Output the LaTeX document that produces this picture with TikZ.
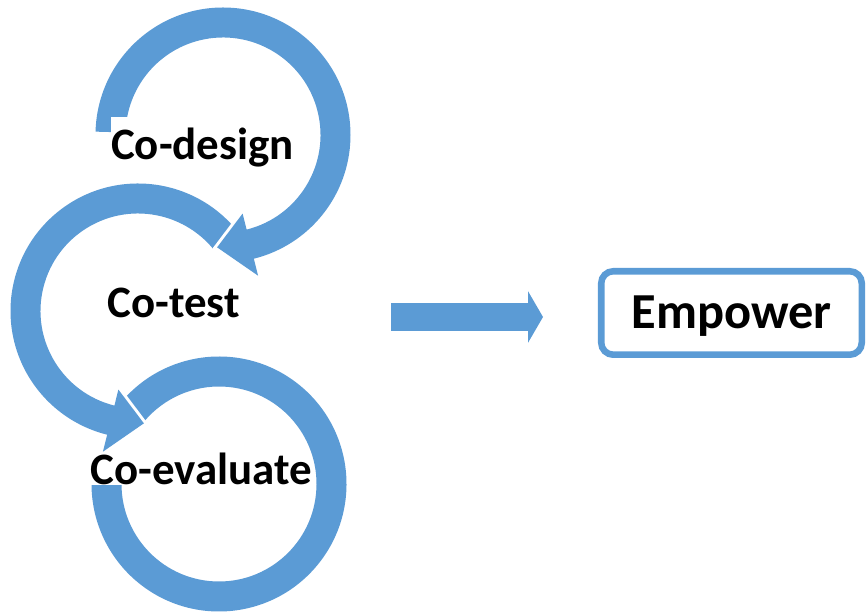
\documentclass[tikz,border=0pt]{standalone}
\usepackage{fontspec}
\setmainfont{Carlito}
\usetikzlibrary{arrows.meta}

\definecolor{loopblue}{HTML}{5B9BD5}

\tikzset{
  loop/.style={fill=loopblue,preaction={draw=white,line width=4.5pt}},
  looplabel/.style={anchor=base,fill=white,inner xsep=0pt,inner ysep=0pt,
    text height=32.25pt,font=\fontsize{33.7}{40}\selectfont\bfseries},
  flow/.style={draw=loopblue,line width=21pt,
    -{Triangle[length=11.25pt,width=38.25pt]}},
  goal/.style={draw=loopblue,line width=4.9pt,rounded corners=9pt,
    minimum width=195.4pt,minimum height=62.6pt,text height=23.25pt,text depth=0pt,
    font=\fontsize{37.8}{45}\selectfont\bfseries}
}

\begin{document}
\begin{tikzpicture}[x=0.75pt,y=0.75pt]
 \useasboundingbox (0,0) rectangle (866,613);

 \coordinate (designc) at (223,478);
 \coordinate (testc) at (138,302);
 \coordinate (evaluatec) at (219,129);

 % loops, last one first
 \begin{scope}[shift={(evaluatec)}]
  \path[loop] (140:127.5) arc[start angle=140,end angle=-183,radius=127.5]
   -- (-183:97.5) arc[start angle=-183,end angle=140,radius=97.5] -- cycle;
 \end{scope}
 \begin{scope}[shift={(testc)}]
  \path[loop] (40:127.5) arc[start angle=40,end angle=256,radius=127.5]
   -- (256:145) -- (273:112.5) -- (256:81)
   -- (256:97.5) arc[start angle=256,end angle=40,radius=97.5] -- cycle;
 \end{scope}
 \begin{scope}[shift={(designc)}]
  \path[loop] (178.5:127.5) arc[start angle=178.5,end angle=-76,radius=127.5]
   -- (-76:145) -- (-93:112.5) -- (-76:81)
   -- (-76:97.5) arc[start angle=-76,end angle=178.5,radius=97.5] -- cycle;
 \end{scope}

 \node[looplabel] (design) at (202.5,453) {Co-design};
 \node[looplabel] (test) at (173.5,295.5) {Co-test};
 \node[looplabel,text height=21pt] (evaluate) at (201.5,128) {Co-evaluate};

 \coordinate (flowstart) at (391,296);
 \coordinate (flowend) at (543,296);
 \draw[flow] (flowstart) -- (flowend);

 \node[goal] (empower) at (731.5,300) {Empower};
\end{tikzpicture}
\end{document}
